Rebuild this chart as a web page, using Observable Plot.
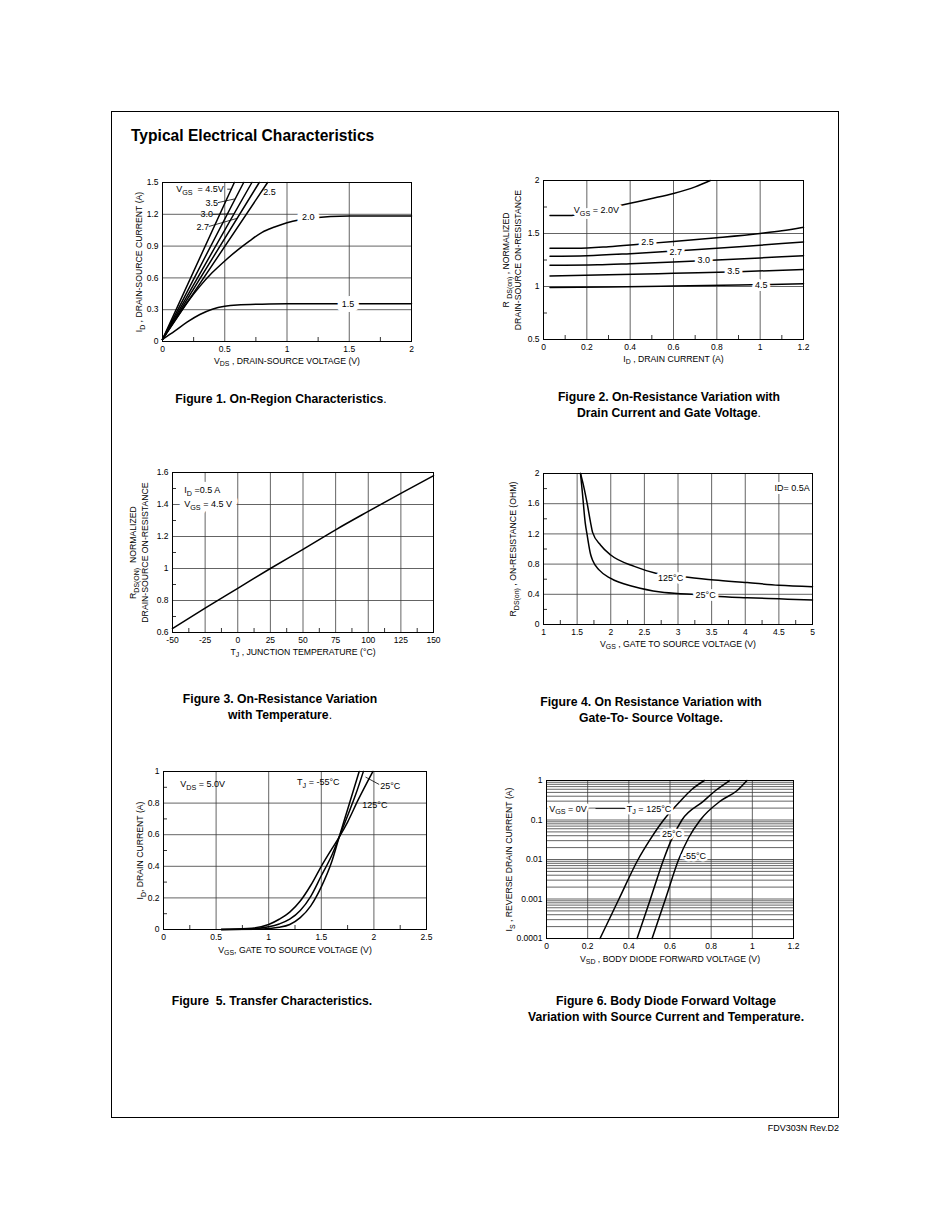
<!DOCTYPE html>
<html>
<head>
<meta charset="utf-8">
<script src="https://cdn.jsdelivr.net/npm/d3@7"></script>
<script src="https://cdn.jsdelivr.net/npm/@observablehq/plot@0.6"></script>
<style>
  html, body { margin: 0; padding: 0; background: #fff; }
  body { font-family: "Liberation Sans", Arial, Helvetica, sans-serif; color: #000; }
  #page { position: relative; width: 950px; height: 1230px; overflow: hidden; background: #fff; }
  #border { position: absolute; left: 111px; top: 111px; width: 726px; height: 1005px; border: 1px solid #000; }
  .abs { position: absolute; }
  .title { font-weight: bold; font-size: 15.6px; line-height: 18px; white-space: nowrap; }
  .cap { font-weight: bold; font-size: 12.2px; line-height: 15.5px; text-align: center; width: 360px; margin-left: -180px; white-space: nowrap; }
  .cap .n { font-weight: normal; }
  .foot { font-size: 9px; width: 120px; text-align: right; }
</style>
</head>
<body>
<div id="page">
  <div id="border"></div>
  <div class="abs title" style="left:131px;top:127px">Typical Electrical Characteristics</div>
  <div class="abs cap" style="left:281px;top:392px">Figure 1. On-Region Characteristics<span class="n">.</span></div>
  <div class="abs cap" style="left:669px;top:390px">Figure 2. On-Resistance Variation with<br>Drain Current and Gate Voltage<span class="n">.</span></div>
  <div class="abs cap" style="left:280px;top:692px">Figure 3. On-Resistance Variation<br>with Temperature<span class="n">.</span></div>
  <div class="abs cap" style="left:651px;top:695px">Figure 4. On Resistance Variation with<br>Gate-To- Source Voltage.</div>
  <div class="abs cap" style="left:272px;top:994px">Figure&nbsp; 5. Transfer Characteristics.</div>
  <div class="abs cap" style="left:666px;top:994px">Figure 6. Body Diode Forward Voltage<br>Variation with Source Current and Temperature.</div>
  <div class="abs foot" style="left:719px;top:1123px">FDV303N Rev.D2</div>
</div>
<script>
// ---------------- Figure 1: On-Region Characteristics ----------------
const f1_xTicks = [0, 0.5, 1, 1.5, 2];
const f1_yTicks = [0, 0.3, 0.6, 0.9, 1.2, 1.5];
const f1_vgs45 = [[0, 0.02], [0.577, 1.5]];
const f1_vgs35 = [[0, 0.02], [0.652, 1.5]];
const f1_vgs30 = [[0, 0.02], [0.718, 1.5]];
const f1_vgs27 = [[0, 0.02], [0.777, 1.5]];
const f1_vgs25 = [[0, 0.02], [0.844, 1.5]];
const f1_vgs20 = [[0, 0.02], [0.1, 0.2], [0.2, 0.37], [0.3, 0.52], [0.4, 0.65], [0.5, 0.76], [0.6, 0.86], [0.7, 0.95], [0.8, 1.03], [0.9, 1.08], [1.0, 1.12], [1.2, 1.165], [1.5, 1.185], [2, 1.185]];
const f1_vgs15 = [[0, 0.02], [0.1, 0.1], [0.2, 0.185], [0.3, 0.255], [0.4, 0.305], [0.5, 0.333], [0.6, 0.345], [0.8, 0.352], [1.0, 0.355], [2, 0.355]];
const f1_labels = [
  {x: 0.11, y: 1.437, t: "V_{GS}  = 4.5V", a: "start"},
  {x: 0.395, y: 1.305, t: "3.5", a: "middle"},
  {x: 0.355, y: 1.2, t: "3.0", a: "middle"},
  {x: 0.323, y: 1.08, t: "2.7", a: "middle"},
  {x: 0.86, y: 1.41, t: "2.5", a: "middle"}
];
const f1_curveLabels = [{x: 1.17, y: 1.175, t: "2.0", a: "middle"}, {x: 1.49, y: 0.357, t: "1.5", a: "middle"}];
const f1_leaders = [
  {x1: 0.52, y1: 1.437, x2: 0.553, y2: 1.437},
  {x1: 0.445, y1: 1.31, x2: 0.58, y2: 1.345},
  {x1: 0.405, y1: 1.2, x2: 0.575, y2: 1.205},
  {x1: 0.372, y1: 1.085, x2: 0.6, y2: 1.162}
];

// ---------------- Figure 2: On-Resistance vs Drain Current ----------------
const f2_xTicks = [0, 0.2, 0.4, 0.6, 0.8, 1, 1.2];
const f2_yTicks = [0.5, 1, 1.5, 2];
const f2_vgs20 = [[0.03, 1.67], [0.13, 1.67], [0.2, 1.695], [0.3, 1.74], [0.4, 1.785], [0.5, 1.83], [0.6, 1.878], [0.7, 1.94], [0.77, 2.0]];
const f2_vgs25 = [[0.03, 1.36], [0.15, 1.36], [0.3, 1.375], [0.45, 1.4], [0.6, 1.425], [0.8, 1.46], [1.0, 1.5], [1.1, 1.525], [1.2, 1.56]];
const f2_vgs27 = [[0.03, 1.285], [0.2, 1.29], [0.4, 1.31], [0.6, 1.335], [0.8, 1.36], [1.0, 1.39], [1.2, 1.42]];
const f2_vgs30 = [[0.03, 1.2], [0.25, 1.205], [0.4, 1.215], [0.6, 1.23], [0.8, 1.25], [1.0, 1.27], [1.2, 1.29]];
const f2_vgs35 = [[0.03, 1.1], [0.3, 1.11], [0.6, 1.125], [0.9, 1.14], [1.2, 1.16]];
const f2_vgs45 = [[0.03, 0.99], [0.3, 0.995], [0.6, 1.005], [0.9, 1.015], [1.2, 1.025]];
const f2_labels = [
  {x: 0.14, y: 1.72, t: "V_{GS} = 2.0V", a: "start"},
  {x: 0.48, y: 1.42, t: "2.5", a: "middle"},
  {x: 0.61, y: 1.325, t: "2.7", a: "middle"},
  {x: 0.74, y: 1.253, t: "3.0", a: "middle"},
  {x: 0.877, y: 1.143, t: "3.5", a: "middle"},
  {x: 1.005, y: 1.012, t: "4.5", a: "middle"}
];

// ---------------- Figure 3: On-Resistance vs Temperature ----------------
const f3_xTicks = [-50, -25, 0, 25, 50, 75, 100, 125, 150];
const f3_yTicks = [0.6, 0.8, 1, 1.2, 1.4, 1.6];
const f3_temp = [-50, -25, 0, 25, 50, 75, 100, 125, 150];
const f3_rds = [0.625, 0.752, 0.876, 1.0, 1.12, 1.242, 1.357, 1.47, 1.58];
const f3_labels = [
  {x: -41, y: 1.49, t: "I_{D} =0.5 A", a: "start"},
  {x: -41, y: 1.4, t: "V_{GS} = 4.5 V", a: "start"}
];

// ---------------- Figure 4: On-Resistance vs Gate Voltage ----------------
const f4_xTicks = [1, 1.5, 2, 2.5, 3, 3.5, 4, 4.5, 5];
const f4_yTicks = [0, 0.4, 0.8, 1.2, 1.6, 2];
const f4_t25 = [[1.55, 2.0], [1.58, 1.73], [1.62, 1.35], [1.65, 1.18], [1.7, 0.93], [1.73, 0.85], [1.83, 0.72], [2.0, 0.61], [2.35, 0.5], [2.74, 0.43], [3.2, 0.4], [3.54, 0.375], [4.03, 0.355], [4.5, 0.34], [5, 0.325]];
const f4_t125 = [[1.55, 2.0], [1.6, 1.82], [1.65, 1.6], [1.7, 1.35], [1.73, 1.22], [1.85, 1.05], [2.0, 0.92], [2.35, 0.77], [2.67, 0.68], [3.12, 0.63], [3.54, 0.59], [4.03, 0.555], [4.5, 0.52], [5, 0.5]];
const f4_labels = [
  {x: 4.96, y: 1.81, t: "ID= 0.5A", a: "end"},
  {x: 2.89, y: 0.61, t: "125°C", a: "middle"},
  {x: 3.41, y: 0.39, t: "25°C", a: "middle"}
];

// ---------------- Figure 5: Transfer Characteristics ----------------
const f5_xTicks = [0, 0.5, 1, 1.5, 2, 2.5];
const f5_yTicks = [0, 0.2, 0.4, 0.6, 0.8, 1];
const f5_tm55 = [[0.55, 0], [0.9, 0.002], [1.0, 0.006], [1.1, 0.014], [1.2, 0.032], [1.3, 0.075], [1.4, 0.15], [1.5, 0.27], [1.6, 0.43], [1.67, 0.585], [1.75, 0.76], [1.86, 1.0]];
const f5_t25 = [[0.55, 0], [0.8, 0.003], [1.0, 0.017], [1.1, 0.035], [1.2, 0.065], [1.3, 0.12], [1.4, 0.21], [1.5, 0.34], [1.6, 0.47], [1.67, 0.585], [1.75, 0.72], [1.83, 0.86], [1.9, 1.0]];
const f5_t125 = [[0.55, 0], [0.8, 0.006], [1.0, 0.032], [1.1, 0.065], [1.2, 0.11], [1.3, 0.18], [1.4, 0.28], [1.5, 0.4], [1.6, 0.51], [1.67, 0.585], [1.75, 0.68], [1.85, 0.82], [1.99, 1.0]];
const f5_labels = [
  {x: 0.16, y: 0.92, t: "V_{DS} = 5.0V", a: "start"},
  {x: 1.27, y: 0.93, t: "T_{J} = -55°C", a: "start"},
  {x: 2.06, y: 0.91, t: "25°C", a: "start"},
  {x: 1.89, y: 0.785, t: "125°C", a: "start"}
];
const f5_leaders = [{x1: 1.92, y1: 0.965, x2: 2.05, y2: 0.918}];

// ---------------- Figure 6: Body Diode Forward Voltage ----------------
const f6_xTicks = [0, 0.2, 0.4, 0.6, 0.8, 1, 1.2];
const f6_yTicks = [0.0001, 0.001, 0.01, 0.1, 1];
const f6_t125 = [[0.26, 1e-4], [0.352, 1e-3], [0.445, 0.01], [0.5, 0.03], [0.569, 0.1], [0.65, 0.3], [0.707, 0.6], [0.767, 1.0]];
const f6_t25 = [[0.44, 1e-4], [0.505, 1e-3], [0.569, 0.01], [0.605, 0.03], [0.658, 0.1], [0.763, 0.3], [0.82, 0.55], [0.89, 1.0]];
const f6_tm55 = [[0.513, 1e-4], [0.578, 1e-3], [0.642, 0.01], [0.69, 0.035], [0.747, 0.1], [0.844, 0.3], [0.925, 0.55], [0.974, 1.0]];
const f6_labels = [
  {x: 0.013, y: 0.19, t: "V_{GS} = 0V", a: "start"},
  {x: 0.39, y: 0.19, t: "T_{J} = 125°C", a: "start"},
  {x: 0.561, y: 0.045, t: "25°C", a: "start"},
  {x: 0.663, y: 0.012, t: "-55°C", a: "start"}
];
const f6_leaders = [{x1: 0.238, y1: 0.195, x2: 0.383, y2: 0.195}];

// ---------------- helpers ----------------
const FONT = '"Liberation Sans", Arial, Helvetica, sans-serif';
const page = document.getElementById("page");
const xy = {x: d => d[0], y: d => d[1]};
const fmt = d => String(d);
const GRID = {stroke: "#3c3c3c", strokeOpacity: 1, strokeWidth: 0.8};

function mids(t) {
  const out = [];
  for (let i = 0; i < t.length - 1; i++) out.push((t[i] + t[i + 1]) / 2);
  return out;
}

function subscriptify(root) {
  const NS = "http://www.w3.org/2000/svg";
  root.querySelectorAll("text").forEach(el => {
    const s = el.textContent;
    if (!s.includes("_{")) return;
    while (el.firstChild) el.removeChild(el.firstChild);
    let shifted = false;
    for (const p of s.split(/(_\{[^}]*\})/)) {
      if (!p) continue;
      const t = document.createElementNS(NS, "tspan");
      if (p.startsWith("_{")) {
        t.textContent = p.slice(2, -1);
        t.setAttribute("font-size", "80%");
        t.setAttribute("dy", "2.6");
        shifted = true;
      } else {
        t.textContent = p;
        if (shifted) { t.setAttribute("dy", "-2.6"); shifted = false; }
      }
      el.appendChild(t);
    }
  });
}

// white halo drawn as its own layer first, then the black text on top
function labelMarks(labels, halo = true, haloWidth = 5) {
  const anchors = ["start", "middle", "end"];
  const out = [];
  if (halo) {
    for (const a of anchors) out.push(Plot.text(labels.filter(d => d.a === a), {
      x: "x", y: "y", text: "t", textAnchor: a, fontSize: 9, fill: "white",
      stroke: "white", strokeWidth: haloWidth, strokeLinejoin: "round"
    }));
  }
  for (const a of anchors) out.push(Plot.text(labels.filter(d => d.a === a), {
    x: "x", y: "y", text: "t", textAnchor: a, fontSize: 9, fill: "black"
  }));
  return out;
}

function chart(o) {
  const ml = 52, mt = 10, mr = 16, mb = 34;
  const W = o.fr - o.fl, H = o.fb - o.ft;
  const marks = [
    Plot.gridX(o.gx, GRID),
    Plot.gridY(o.gy, GRID),
  ];
  if (o.mx) marks.push(Plot.axisX(o.mx, {tickSize: -4, tickFormat: () => "", label: null, strokeWidth: 0.8}));
  if (o.my) marks.push(Plot.axisY(o.my, {tickSize: -4, tickFormat: () => "", label: null, strokeWidth: 0.8}));
  marks.push(
    Plot.axisX(o.xt, {tickSize: 0, tickPadding: 4, tickFormat: fmt, label: null, fontSize: 8.5}),
    Plot.axisY(o.yt, {tickSize: 0, tickPadding: 4, tickFormat: fmt, label: null, fontSize: 8.5}),
    ...o.marks,
    Plot.frame({stroke: "black", strokeWidth: 1}),
    Plot.text([o.xlabel], {frameAnchor: "bottom", textAnchor: "middle", dy: o.xdy ?? 22, text: d => d, fontSize: 8.7}),
    ...o.ylabels.map(([t, dx]) => Plot.text([t], {frameAnchor: "left", textAnchor: "middle", rotate: -90, dx: -dx, text: d => d, fontSize: 8.7}))
  );
  const svg = Plot.plot({
    width: W + ml + mr, height: H + mt + mb,
    marginLeft: ml, marginTop: mt, marginRight: mr, marginBottom: mb,
    x: {domain: o.xd},
    y: {domain: o.yd, type: o.ylog ? "log" : "linear"},
    style: {fontFamily: FONT, fontSize: "8.5px", color: "black", background: "transparent", overflow: "visible"},
    marks
  });
  svg.style.position = "absolute";
  svg.style.left = (o.fl - ml) + "px";
  svg.style.top = (o.ft - mt) + "px";
  page.appendChild(svg);
  subscriptify(svg);
}

const curve = (data) => Plot.line(data, {...xy, stroke: "black", strokeWidth: 1.5, curve: "monotone-x"});
const leaders = (data) => Plot.link(data, {x1: "x1", y1: "y1", x2: "x2", y2: "y2", stroke: "black", strokeWidth: 0.8});

// Figure 1
chart({
  fl: 162, ft: 182, fr: 411, fb: 341,
  xd: [0, 2], yd: [0, 1.5],
  gx: f1_xTicks, gy: f1_yTicks, xt: f1_xTicks, yt: f1_yTicks,
  mx: mids(f1_xTicks),
  marks: [
    ...[f1_vgs15, f1_vgs20, f1_vgs25, f1_vgs27, f1_vgs30, f1_vgs35, f1_vgs45].map(curve),
    leaders(f1_leaders),
    ...labelMarks(f1_labels, false),
    ...labelMarks(f1_curveLabels, true, 10)
  ],
  xlabel: "V_{DS} , DRAIN-SOURCE VOLTAGE (V)",
  ylabels: [["I_{D} , DRAIN-SOURCE CURRENT (A)", 23]]
});

// Figure 2
chart({
  fl: 543, ft: 180, fr: 803, fb: 339,
  xd: [0, 1.2], yd: [0.5, 2],
  gx: f2_xTicks, gy: f2_yTicks, xt: f2_xTicks, yt: f2_yTicks,
  mx: mids(f2_xTicks), my: mids(f2_yTicks),
  marks: [
    ...[f2_vgs20, f2_vgs25, f2_vgs27, f2_vgs30, f2_vgs35, f2_vgs45].map(curve),
    ...labelMarks(f2_labels, true, 6)
  ],
  xlabel: "I_{D} , DRAIN CURRENT (A)",
  ylabels: [["R _{DS(on)} , NORMALIZED", 37], ["DRAIN-SOURCE ON-RESISTANCE", 25]]
});

// Figure 3
chart({
  fl: 172, ft: 472, fr: 433, fb: 632,
  xd: [-50, 150], yd: [0.6, 1.6],
  gx: f3_xTicks, gy: f3_yTicks, xt: f3_xTicks, yt: f3_yTicks,
  mx: mids(f3_xTicks), my: mids(f3_yTicks),
  marks: [
    Plot.line(f3_temp, {x: d => d, y: (d, i) => f3_rds[i], stroke: "black", strokeWidth: 1.5, curve: "monotone-x"}),
    ...labelMarks(f3_labels, true, 11)
  ],
  xlabel: "T_{J} , JUNCTION TEMPERATURE (°C)",
  ylabels: [["R_{DS(ON)}  NORMALIZED", 39], ["DRAIN-SOURCE ON-RESISTANCE", 27]]
});

// Figure 4
chart({
  fl: 543, ft: 473, fr: 812, fb: 624,
  xd: [1, 5], yd: [0, 2],
  gx: f4_xTicks, gy: f4_yTicks, xt: f4_xTicks, yt: f4_yTicks,
  mx: mids(f4_xTicks), my: mids(f4_yTicks),
  marks: [
    curve(f4_t125), curve(f4_t25),
    ...labelMarks(f4_labels, true, 6)
  ],
  xlabel: "V_{GS} , GATE TO SOURCE VOLTAGE (V)",
  ylabels: [["R_{DS(on)} , ON-RESISTANCE (OHM)", 30]]
});

// Figure 5
chart({
  fl: 163, ft: 771, fr: 426, fb: 929,
  xd: [0, 2.5], yd: [0, 1],
  gx: f5_xTicks, gy: f5_yTicks, xt: f5_xTicks, yt: f5_yTicks,
  mx: mids(f5_xTicks), my: mids(f5_yTicks),
  marks: [
    curve(f5_tm55), curve(f5_t25), curve(f5_t125),
    leaders(f5_leaders),
    ...labelMarks(f5_labels, false)
  ],
  xlabel: "V_{GS}, GATE TO SOURCE VOLTAGE (V)",
  xdy: 23,
  ylabels: [["I_{D}, DRAIN CURRENT (A)", 23]]
});

// Figure 6 (log scale)
const f6_grid = [];
for (let e = -4; e < 0; e++) for (let k = 1; k < 10; k++) f6_grid.push(k * Math.pow(10, e));
f6_grid.push(1);
chart({
  fl: 546, ft: 780, fr: 793, fb: 938,
  xd: [0, 1.2], yd: [0.0001, 1], ylog: true,
  gx: f6_xTicks, gy: f6_grid, xt: f6_xTicks, yt: f6_yTicks,
  marks: [
    curve(f6_t125), curve(f6_t25), curve(f6_tm55),
    ...labelMarks(f6_labels, true, 5),
    leaders(f6_leaders)
  ],
  xlabel: "V_{SD} , BODY DIODE FORWARD VOLTAGE (V)",
  xdy: 23,
  ylabels: [["I_{S} , REVERSE DRAIN CURRENT (A)", 37]]
});
</script>
</body>
</html>
